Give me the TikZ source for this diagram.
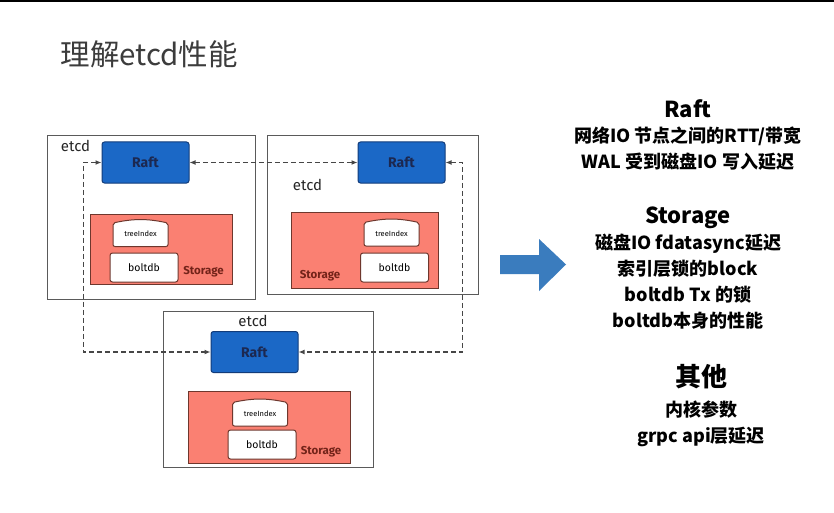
\documentclass[tikz,border=0pt]{standalone}
\usepackage{fontspec}
\usepackage{xcolor}
\usepackage{tikz}
\usetikzlibrary{arrows.meta, positioning, calc}

\newfontfamily\cjk{Noto Sans CJK SC}
\newfontfamily\hand{Fira Sans}

\definecolor{raftblue}{RGB}{27,104,198}
\definecolor{raftedge}{RGB}{18,60,122}
\definecolor{raftink}{RGB}{28,40,80}
\definecolor{salmon}{RGB}{250,128,114}
\definecolor{storedge}{RGB}{110,55,45}
\definecolor{storink}{RGB}{115,35,25}
\definecolor{boxgray}{RGB}{90,90,90}
\definecolor{linkgray}{RGB}{70,70,70}
\definecolor{arrowblue}{RGB}{58,124,190}
\definecolor{titlegray}{RGB}{60,60,60}

\begin{document}
\begin{tikzpicture}[
    x=1pt, y=-1pt,
    etcdbox/.style={rectangle, draw=boxgray, line width=1pt, fill=white, inner sep=0pt},
    etcdlabel/.style={font=\hand\fontsize{15}{18}\selectfont, text=black!85},
    raft/.style={rectangle, draw=raftedge, line width=1pt, rounded corners=2.5pt, fill=raftblue, minimum width=87pt, minimum height=41pt, font=\hand\bfseries\fontsize{14}{16}\selectfont, text=raftink},
    storage/.style={rectangle, draw=storedge, line width=1pt, fill=salmon, inner sep=0pt},
    storelabel/.style={font=\hand\bfseries\fontsize{11.5}{13}\selectfont, text=storink},
    treeshape/.style={draw=storedge, line width=1pt, fill=white, rounded corners=2pt},
    treelabel/.style={font=\hand\fontsize{7.5}{9}\selectfont, inner sep=0pt},
    boltdb/.style={rectangle, draw=storedge, line width=1pt, rounded corners=2.5pt, fill=white, minimum width=68pt, minimum height=29pt, font=\hand\fontsize{10.5}{12}\selectfont},
    link/.style={{Latex[length=6pt,width=5pt]}-{Latex[length=6pt,width=5pt]}, draw=linkgray, line width=1.2pt, dash pattern=on 5pt off 3pt},
    heading/.style={font=\cjk\bfseries\fontsize{22}{26}\selectfont},
    detail/.style={font=\cjk\bfseries\fontsize{18}{26}\selectfont, align=center, inner sep=0pt}
]
\useasboundingbox (0,0) rectangle (834,513);
\fill[white] (0,0) rectangle (834,513);
\draw[line width=2pt] (0,1) -- (834,1);

% Title
\node[anchor=base west, font=\cjk\fontsize{29.5}{33}\selectfont, text=titlegray] (title) at (57,66) {理解etcd性能};

% etcd members
\node[etcdbox, minimum width=208pt, minimum height=163pt] (etcdA) at (151,217.5) {};
\node[etcdbox, minimum width=211pt, minimum height=158pt] (etcdB) at (372.5,215) {};
\node[etcdbox, minimum width=210pt, minimum height=156pt] (etcdC) at (268,389) {};
\node[etcdlabel] (nameA) at (75.5,146) {etcd};
\node[etcdlabel] (nameB) at (307.5,185) {etcd};
\node[etcdlabel] (nameC) at (253,321) {etcd};

% Raft
\node[raft] (raftA) at (145.5,162.5) {Raft};
\node[raft] (raftB) at (401.5,162.5) {Raft};
\node[raft] (raftC) at (254.5,352) {Raft};

% Storage
\node[storage, minimum width=142pt, minimum height=70pt] (storeA) at (161,249) {};
\node[storage, minimum width=147pt, minimum height=76pt] (storeB) at (364.5,250) {};
\node[storage, minimum width=162pt, minimum height=72pt] (storeC) at (269,427) {};
\node[storelabel] (tagA) at (203.5,272) {Storage};
\node[storelabel] (tagB) at (320,276) {Storage};
\node[storelabel] (tagC) at (321,452) {Storage};

\foreach \n/\tx/\ty/\bx/\by in {A/140.5/233/144/267.5, B/391.5/232.5/394.5/267.5, C/260/412.5/262/444.5} {
  \filldraw[treeshape] (\tx-27.5,\ty+13.5) -- (\tx-27.5,\ty-10) to[bend left=12] (\tx+27.5,\ty-10) -- (\tx+27.5,\ty+13.5) -- cycle;
  \node[treelabel] (tree\n) at (\tx,\ty+1) {treeIndex};
  \node[boltdb] (bolt\n) at (\bx,\by) {boltdb};
}

% Arrows
\draw[link] (raftA.east) -- (raftB.west);
\draw[link] (raftA.west) -- ++(-18,0) |- (raftC.west);
\draw[link] (raftB.east) -- ++(17,0) |- (raftC.east);

\fill[arrowblue] (500,255) -- (539,255) -- (539,239) -- (566,264.5) -- (539,291) -- (539,274) -- (500,274) -- cycle;

% Notes
\node[heading, anchor=base] (raftT) at (688,118) {Raft};
\node[detail, anchor=north] (raftD) at (688,127) {网络IO 节点之间的RTT/带宽\\WAL 受到磁盘IO 写入延迟};
\node[heading, anchor=base] (storeT) at (688,223) {Storage};
\node[detail, anchor=north] (storeD) at (688,234) {磁盘IO fdatasync延迟\\索引层锁的block\\boltdb Tx 的锁\\boltdb本身的性能};
\node[heading, anchor=base, font=\cjk\bfseries\fontsize{26}{30}\selectfont] (otherT) at (701,386) {其他};
\node[detail, anchor=north] (otherD) at (701,401) {内核参数\\grpc api层延迟};

\end{tikzpicture}
\end{document}
